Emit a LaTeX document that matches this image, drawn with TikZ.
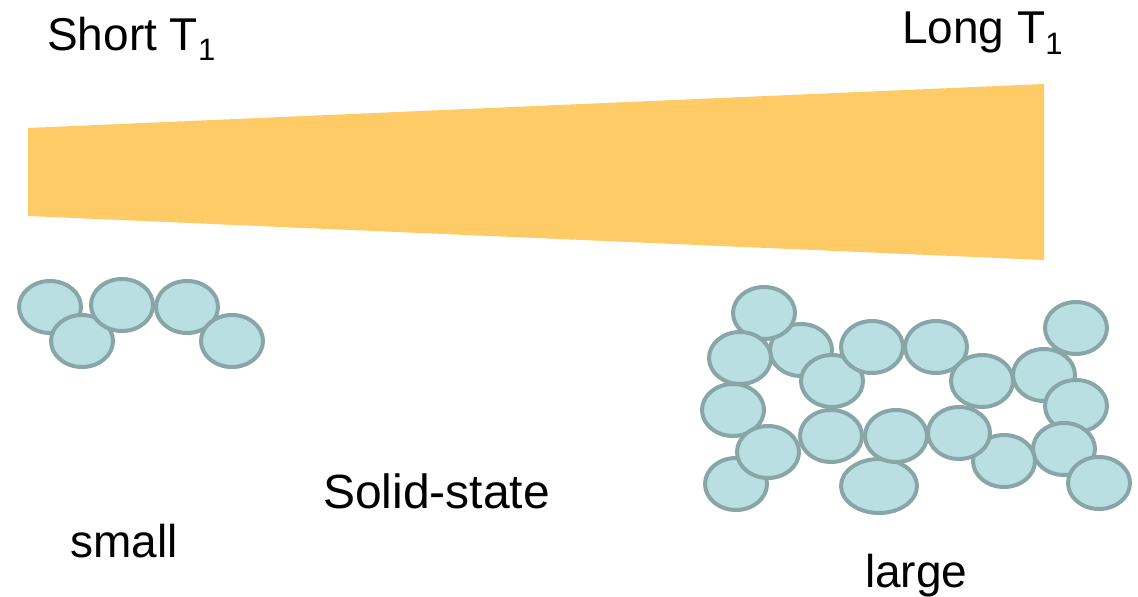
\documentclass[tikz,border=0pt]{standalone}
\usepackage{fontspec}
\setmainfont{Liberation Sans}
\definecolor{bar}{RGB}{254,203,102}
\definecolor{grainfill}{RGB}{185,223,226}
\definecolor{grainline}{RGB}{136,166,167}
\tikzset{
  grain/.style={fill=grainfill,draw=grainline,line width=4pt},
  lbl/.style={anchor=base west,inner sep=0pt,font=\fontsize{46}{50}\selectfont}
}
\newcommand{\subone}[1]{\raisebox{-#1}{\fontsize{31}{31}\selectfont 1}}
\begin{document}
\begin{tikzpicture}[x=1pt,y=-1pt]
\useasboundingbox (0,0) rectangle (1138,597);
% taper bar
\fill[bar] (28,128) -- (1044,84) -- (1044,260) -- (28,216) -- cycle;
% labels
\node[lbl] (short) at (47,50) {Short T\subone{10pt}};
\node[lbl] (long) at (902,43) {Long T\subone{11pt}};
\node[lbl,font=\fontsize{48}{52}\selectfont] (solid) at (323,508) {Solid-state};
\node[lbl] (small) at (70,557) {small};
\node[lbl] (large) at (865,587) {large};
% small cluster
\foreach \x/\y in {50/307, 82/341, 122/305, 187/307, 232/341}
  \path[grain] (\x,\y) ellipse (31 and 26);
% large cluster
\foreach \x/\y in {801/350, 764/313, 740/358, 832/381, 872/347, 936/347,
  982/381, 1044/375, 1076/328, 1076/406, 1064/449, 1099/483,
  733/410, 736/484, 768/452}
  \path[grain] (\x,\y) ellipse (31 and 26);
\path[grain] (879,486) ellipse (38 and 27);
\foreach \x/\y in {896/436, 831/436, 1004/461, 959/433}
  \path[grain] (\x,\y) ellipse (31 and 26);
\end{tikzpicture}
\end{document}
